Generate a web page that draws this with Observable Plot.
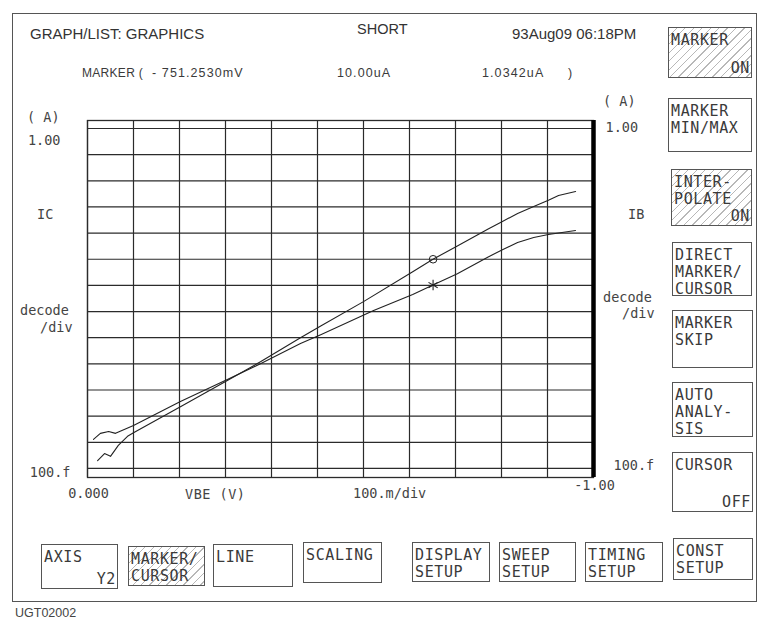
<!DOCTYPE html>
<html>
<head>
<meta charset="utf-8">
<script src="https://cdn.jsdelivr.net/npm/d3@7"></script>
<script src="https://cdn.jsdelivr.net/npm/@observablehq/plot@0.6"></script>
<style>
  body { margin: 0; background: #fff; }
  #screen { position: relative; width: 765px; height: 625px; overflow: hidden; background: #fff;
            font-family: "Liberation Sans", Arial, sans-serif; color: #333; }
  #chart { position: absolute; left: 0; top: 0; }
  .t { position: absolute; white-space: pre; line-height: 16px; transform: translateY(-50%); }
  .mono { font-family: "DejaVu Sans Mono", monospace; font-size: 13.5px; color: #444; }
  .key { position: absolute; border: 1px solid #555; box-sizing: border-box;
         font-family: "DejaVu Sans Mono", monospace; font-size: 15px; letter-spacing: 0.6px; color: #3a3a3a; }
  .key .l { position: absolute; left: 2px; line-height: 16px; white-space: pre; }
  .key .r { position: absolute; right: 1px; bottom: 1px; line-height: 16px; white-space: pre; }
  .hatch { background: repeating-linear-gradient(135deg, #fff 0 5px, #b8b8b8 5px 6px); }
  #frame { position: absolute; left: 12px; top: 13px; width: 745px; height: 589px; border: 1px solid #555; box-sizing: border-box; }
</style>
</head>
<body>
<div id="screen">
  <div id="frame"></div>
  <div id="chart"></div>
</div>
<script>
// ---------- data ----------
// IC curve (upper at high |VBE|, circle marker)
const vbeIC = [-0.022, -0.037, -0.050, -0.067, -0.087, -0.100, -0.202, -0.304, -0.376, -0.463, -0.507,
               -0.600, -0.707, -0.751, -0.804, -0.870, -0.902, -0.935, -0.970, -1.002, -1.024, -1.061];
const icA   = [2.0e-13, 3.7e-13, 2.9e-13, 7.6e-13, 1.7e-12, 2.3e-12, 2.3e-11, 2.3e-10, 1.2e-9, 1.0e-8, 2.8e-8,
               2.4e-7, 3.3e-6, 1.0e-5, 3.2e-5, 1.4e-4, 2.8e-4, 5.6e-4, 1.05e-3, 1.8e-3, 2.75e-3, 3.9e-3];
// IB curve (lower at high |VBE|, asterisk marker)
const vbeIB = [-0.013, -0.028, -0.046, -0.061, -0.100, -0.202, -0.304, -0.376, -0.463, -0.507, -0.622,
               -0.707, -0.751, -0.804, -0.870, -0.902, -0.935, -0.970, -1.002, -1.061];
const ibA   = [1.3e-12, 2.2e-12, 2.6e-12, 2.2e-12, 4.4e-12, 3.6e-11, 2.5e-10, 1.0e-9, 6.0e-9, 1.3e-8, 1.1e-7,
               4.5e-7, 1.03e-6, 2.8e-6, 1.2e-5, 2.3e-5, 4.4e-5, 6.8e-5, 8.9e-5, 1.26e-4];
// marker readout
const markerVBE = -0.7512530;
const markerIC = 10.00e-6;
const markerIB = 1.0342e-6;
// grid / ticks
const xGridV = [0, -0.1, -0.2, -0.3, -0.4, -0.5, -0.6, -0.7, -0.8, -0.9, -1.0, -1.1];
const yGridA = [1, 1e-1, 1e-2, 1e-3, 1e-4, 1e-5, 1e-6, 1e-7, 1e-8, 1e-9, 1e-10, 1e-11, 1e-12, 1e-13];
const yTickValues = [1, 1e-13];
const yTickLabels = ["1.00", "100.f"];
const xTickValues = [0, -1.0];
const xTickLabels = ["0.000", "-1.00"];

const icRows = vbeIC.map((v, i) => ({v, i: icA[i]}));
const ibRows = vbeIB.map((v, i) => ({v, i: ibA[i]}));
const mk = [{v: markerVBE, ic: markerIC, ib: markerIB}];
const yTicks = yTickValues.map((v, i) => ({v, label: yTickLabels[i]}));
const xTicks = xTickValues.map((v, i) => ({v, label: xTickLabels[i]}));

const ink = "#2b2b2b";
const mono = "DejaVu Sans Mono, monospace";
const plot = Plot.plot({
  width: 765, height: 625,
  marginLeft: 87, marginRight: 172, marginTop: 120, marginBottom: 148,
  style: {background: "transparent", overflow: "visible"},
  x: {domain: [0, -1.1], axis: null},
  y: {type: "log", domain: [10 ** -13.346, 10 ** 0.306], axis: null},
  marks: [
    Plot.ruleX(xGridV, {stroke: ink, strokeWidth: 1.2}),
    Plot.ruleY(yGridA, {stroke: ink, strokeWidth: 1.2}),
    Plot.frame({stroke: ink, strokeWidth: 1.3}),
    Plot.ruleX([-1.1], {stroke: "#000", strokeWidth: 4.5}),
    Plot.line(icRows, {x: "v", y: "i", stroke: "#222", strokeWidth: 1.1}),
    Plot.line(ibRows, {x: "v", y: "i", stroke: "#222", strokeWidth: 1.1}),
    Plot.dot(mk, {x: "v", y: "ic", r: 3.8, stroke: "#222", fill: "none", strokeWidth: 1}),
    Plot.dot(mk, {x: "v", y: "ib", r: 5, symbol: "asterisk", stroke: "#222", strokeWidth: 1.1}),
    // left tick labels
    Plot.text(yTicks.slice(0, 1), {frameAnchor: "left", y: "v", text: "label", textAnchor: "end", dx: -27, dy: 12, fontFamily: mono, fontSize: 13.5, fill: "#444"}),
    Plot.text(yTicks.slice(1), {frameAnchor: "left", y: "v", text: "label", textAnchor: "end", dx: -17, dy: 4, fontFamily: mono, fontSize: 13.5, fill: "#444"}),
    // right tick labels
    Plot.text(yTicks.slice(0, 1), {frameAnchor: "right", y: "v", text: "label", textAnchor: "start", dx: 12, dy: -1, fontFamily: mono, fontSize: 13.5, fill: "#444"}),
    Plot.text(yTicks.slice(1), {frameAnchor: "right", y: "v", text: "label", textAnchor: "start", dx: 20, dy: -3, fontFamily: mono, fontSize: 13.5, fill: "#444"}),
    // x tick labels
    Plot.text(xTicks.slice(0, 1), {frameAnchor: "bottom", x: "v", text: "label", textAnchor: "middle", dx: 1, dy: 20, fontFamily: mono, fontSize: 13.5, fill: "#444"}),
    Plot.text(xTicks.slice(1), {frameAnchor: "bottom", x: "v", text: "label", textAnchor: "middle", dx: 47, dy: 12, fontFamily: mono, fontSize: 13.5, fill: "#444"})
  ]
});
document.getElementById("chart").appendChild(plot);

// ---------- static screen texts ----------
const screen = document.getElementById("screen");
function txt(s, x, y, css = "", cls = "t") {
  const d = document.createElement("div");
  d.className = cls;
  d.textContent = s;
  d.style.left = x + "px";
  d.style.top = y + "px";
  d.style.cssText += css;
  screen.appendChild(d);
}
const head = "font-size:15px;color:#333;";
txt("GRAPH/LIST: GRAPHICS", 30, 34, head);
txt("SHORT", 357, 29, "font-size:14.5px;color:#333;");
txt("93Aug09 06:18PM", 512, 34, head);
const mline = "font-size:12.5px;letter-spacing:1.1px;color:#3a3a3a;";
txt("MARKER (", 82, 73, "font-size:12px;letter-spacing:0.3px;color:#3a3a3a;");
txt("- 751.2530mV", 152, 73, mline);
txt("10.00uA", 337, 73, mline);
txt("1.0342uA", 482, 73, mline);
txt(")", 568, 73, mline);

txt("( A)", 27, 117, "", "t mono");
txt("IC", 37, 214, "", "t mono");
txt("decode", 20, 310, "", "t mono");
txt("/div", 40, 327, "", "t mono");
txt("( A)", 603, 101, "", "t mono");
txt("IB", 628, 214, "", "t mono");
txt("decode", 603, 297, "", "t mono");
txt("/div", 622, 313, "", "t mono");
txt("VBE (V)", 185, 494, "letter-spacing:0.5px;", "t mono");
txt("100.m/div", 353, 493, "", "t mono");
txt("UGT02002", 15, 613, "font-size:12.5px;color:#444;");

// ---------- softkeys ----------
const keys = [
  {b: [668, 27, 752, 78], l: ["MARKER"], r: "ON", h: true},
  {b: [668, 98, 752, 152], l: ["MARKER", "MIN/MAX"]},
  {b: [671, 169, 752, 226], l: ["INTER-", "POLATE"], r: "ON", h: true},
  {b: [672, 242, 752, 296], l: ["DIRECT", "MARKER/", "CURSOR"]},
  {b: [672, 310, 753, 368], l: ["MARKER", "SKIP"]},
  {b: [672, 382, 753, 437], l: ["AUTO", "ANALY-", "SIS"]},
  {b: [672, 452, 753, 512], l: ["CURSOR"], r: "OFF"},
  {b: [41, 544, 118, 589], l: ["AXIS"], r: "Y2"},
  {b: [128, 546, 205, 586], l: ["MARKER/", "CURSOR"], h: true},
  {b: [213, 544, 293, 587], l: ["LINE"]},
  {b: [303, 542, 382, 583], l: ["SCALING"]},
  {b: [412, 542, 490, 582], l: ["DISPLAY", "SETUP"]},
  {b: [499, 542, 576, 582], l: ["SWEEP", "SETUP"]},
  {b: [585, 542, 663, 582], l: ["TIMING", "SETUP"]},
  {b: [673, 538, 753, 580], l: ["CONST", "SETUP"]}
];
for (const k of keys) {
  const d = document.createElement("div");
  d.className = "key" + (k.h ? " hatch" : "");
  d.style.left = k.b[0] + "px";
  d.style.top = k.b[1] + "px";
  d.style.width = (k.b[2] - k.b[0]) + "px";
  d.style.height = (k.b[3] - k.b[1]) + "px";
  k.l.forEach((s, i) => {
    const e = document.createElement("div");
    e.className = "l";
    e.textContent = s;
    e.style.top = (4 + i * 17) + "px";
    d.appendChild(e);
  });
  if (k.r) {
    const e = document.createElement("div");
    e.className = "r";
    e.textContent = k.r;
    d.appendChild(e);
  }
  screen.appendChild(d);
}
</script>
</body>
</html>
